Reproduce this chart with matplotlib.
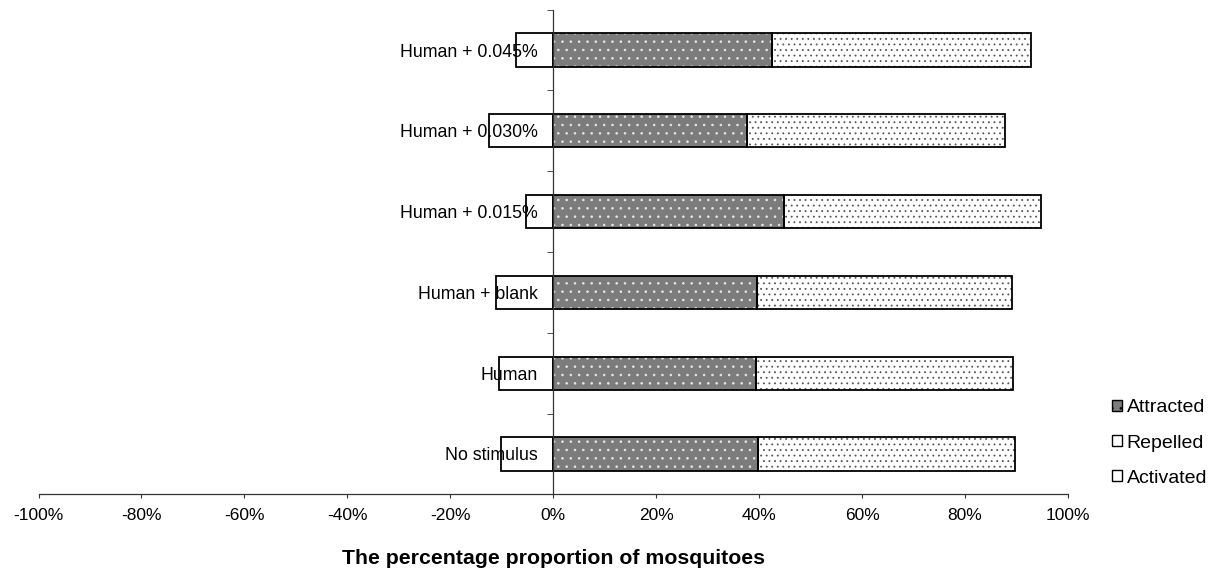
import numpy as np
import matplotlib
matplotlib.use("Agg")
import matplotlib.pyplot as plt
from matplotlib.ticker import FuncFormatter, FixedLocator
from matplotlib.patches import Patch

plt.rcParams['font.family'] = ['Liberation Sans', 'DejaVu Sans']
plt.rcParams['axes.unicode_minus'] = False
plt.rcParams['hatch.linewidth'] = 0.6

# data (percent), bottom to top
categories = ["No stimulus", "Human", "Human + blank",
              "Human + 0.015%", "Human + 0.030%", "Human + 0.045%"]
repelled = [-10.2, -10.5, -11.1, -5.3, -12.4, -7.2]
attracted = [39.8, 39.4, 39.6, 44.8, 37.6, 42.4]
activated = [49.9, 50.0, 49.5, 50.0, 50.1, 50.4]
xticks = [-100, -80, -60, -40, -20, 0, 20, 40, 60, 80, 100]

W, H = 1211, 573
fig = plt.figure(figsize=(W / 100, H / 100), dpi=100)
ax = fig.add_axes([38.5 / W, 1 - 494.4 / H, (1068 - 38.5) / W, (494.4 - 9.6) / H])

y = np.arange(len(categories))
bh = 0.41
grey = "#7c7c7c"

# repelled: plain white
ax.barh(y, repelled, height=bh, color="white", edgecolor="black", linewidth=1.3, zorder=1)

# attracted: grey with white speckle
ax.barh(y, attracted, height=bh, color=grey, edgecolor="#e8e8e8", hatch="..",
        linewidth=0, zorder=1)
ax.barh(y, attracted, height=bh, fill=False, edgecolor="black", linewidth=1.3, zorder=1.1)

# activated: white with dots
ax.barh(y, activated, left=attracted, height=bh, color="white", edgecolor="#555555",
        hatch="...", linewidth=0, zorder=1)
ax.barh(y, activated, left=attracted, height=bh, fill=False, edgecolor="black",
        linewidth=1.3, zorder=1.1)

ax.set_xlim(-100, 100)
ax.set_ylim(-0.5, len(categories) - 0.5)

for s in ["top", "right"]:
    ax.spines[s].set_visible(False)
ax.spines["left"].set_position(("data", 0))
for s in ["left", "bottom"]:
    ax.spines[s].set_linewidth(0.9)
    ax.spines[s].set_color("#333333")

ax.set_yticks(y)
ax.set_yticklabels(categories, fontsize=12.8)
ax.yaxis.set_minor_locator(FixedLocator(np.arange(0.5, len(categories), 1.0)))
ax.tick_params(axis="y", which="major", length=0, pad=11)
ax.tick_params(axis="y", which="minor", length=4, direction="out", color="#333333")

ax.set_xticks(xticks)
ax.xaxis.set_major_formatter(FuncFormatter(lambda v, p: f"{int(round(v))}%"))
ax.tick_params(axis="x", length=3.2, pad=6.5, labelsize=12.5, color="#333333")

ax.set_xlabel("The percentage proportion of mosquitoes", fontsize=15.3, fontweight="bold")
ax.xaxis.set_label_coords(0.5, -0.112)

# legend
handles = [
    Patch(facecolor=grey, edgecolor="black", hatch="..", linewidth=1),
    Patch(facecolor="white", edgecolor="black", linewidth=1),
    Patch(facecolor="white", edgecolor="black", hatch=".", linewidth=1),
]
fig.legend(handles, ["Attracted", "Repelled", "Activated"],
           loc="center left", bbox_to_anchor=(1112 / W, 1 - 443 / H),
           frameon=False, fontsize=14, handlelength=0.5, handleheight=0.5,
           handletextpad=0.25, labelspacing=0.93, borderpad=0, borderaxespad=0)

fig.savefig("out.png", dpi=100)
